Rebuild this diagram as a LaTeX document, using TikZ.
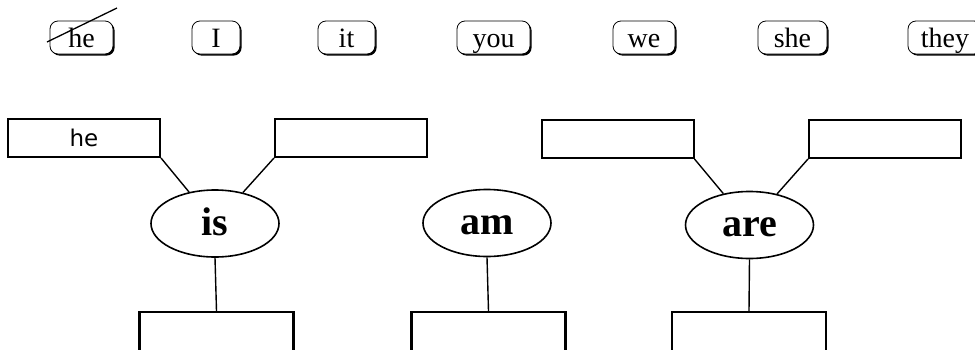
\documentclass[tikz,border=0pt]{standalone}
\usepackage{fontspec}
\setmainfont{Liberation Serif}
\newfontfamily\slotfont{DejaVu Sans}
\usetikzlibrary{shapes.geometric,shadows}
\tikzset{
  word/.style={draw, rounded corners=8pt, line width=0.8pt, fill=white,
    minimum height=33pt, inner sep=0pt, text height=20pt, text depth=1pt,
    font=\fontsize{28}{28}\selectfont,
    drop shadow={shadow xshift=1.6pt, shadow yshift=-1.6pt, fill=black, opacity=1}},
  slot/.style={draw, line width=2pt, minimum width=152pt, minimum height=38pt,
    inner sep=0pt, font=\slotfont\fontsize{23}{23}\selectfont},
  answer/.style={draw, line width=2.2pt, minimum width=154pt, minimum height=68pt, inner sep=0pt},
  verb/.style={ellipse, draw, line width=1.6pt, minimum width=128pt, minimum height=67pt,
    inner sep=0pt, text height=24pt, text depth=1pt,
    font=\bfseries\fontsize{40}{40}\selectfont},
  link/.style={line width=1.4pt}
}
\begin{document}
\begin{tikzpicture}[x=1pt,y=-1pt]
\useasboundingbox (0,0) rectangle (975,349);
\clip (0,0) rectangle (975,349);
\fill[white] (0,0) rectangle (975,349);
% word bank
\node[word, minimum width=63pt] (whe) at (81.5,37.5) {he};
\node[word, minimum width=48pt] (wI) at (216,37.5) {I};
\node[word, minimum width=57pt] (wit) at (346.5,37.5) {it};
\node[word, minimum width=73pt] (wyou) at (493.5,37.5) {you};
\node[word, minimum width=62pt] (wwe) at (644,37.5) {we};
\node[word, minimum width=69pt] (wshe) at (792.5,37.5) {she};
\node[word, minimum width=74pt] (wthey) at (945,37.5) {they};
% strike through "he"
\coordinate (s1) at (47,42);
\coordinate (s2) at (117,8);
\draw[line width=1.3pt] (s1) -- (s2);
% slots
\node[slot] (b1) at (84,138) {he};
\node[slot] (b2) at (351,138) {};
\node[slot] (b3) at (617.5,139) {};
\node[slot] (b4) at (885,139) {};
% verbs
\node[verb] (is) at (215,223.5) {is};
\node[verb] (am) at (487,223) {am};
\node[verb] (are) at (749.5,225) {are};
% answer boxes
\node[answer] (a1) at (216.5,346) {};
\node[answer] (a2) at (488.5,346) {};
\node[answer] (a3) at (749,346) {};
% connectors
\draw[link] (b1.south east) -- (is);
\draw[link] (b2.south west) -- (is);
\draw[link] (b3.south east) -- (are);
\draw[link] (b4.south west) -- (are);
\draw[link] (is.south) -- (a1.north);
\draw[link] (am.south) -- (a2.north);
\draw[link] (are.south) -- (a3.north);
\end{tikzpicture}
\end{document}
